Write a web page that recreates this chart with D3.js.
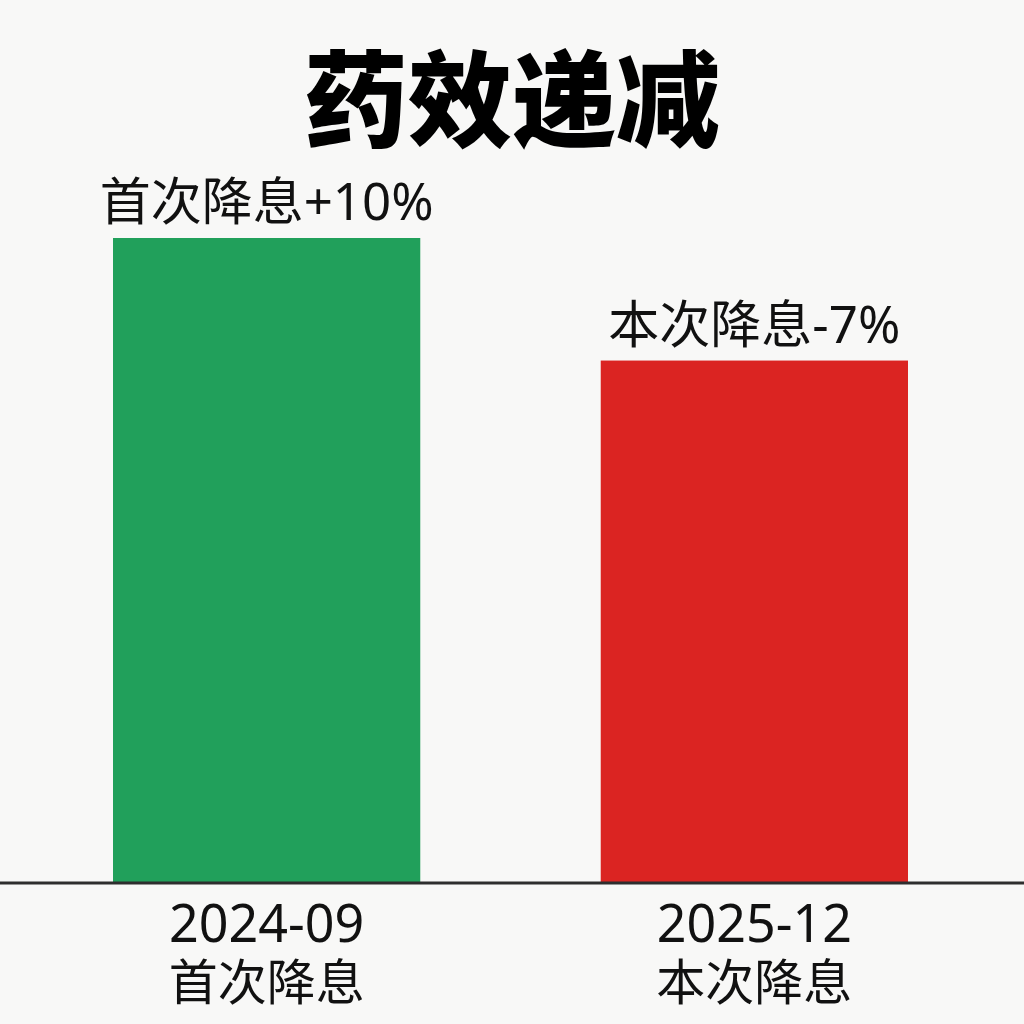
<!DOCTYPE html>
<html>
<head>
<meta charset="utf-8">
<script src="https://cdn.jsdelivr.net/npm/d3@7"></script>
<style>
  html, body { margin: 0; padding: 0; background: #f8f8f7; }
  svg { display: block; }
</style>
</head>
<body>
<div id="chart"></div>
<script>
// data
const categories = ["2024-09", "2025-12"];
const subLabels = ["首次降息", "本次降息"];
const changeLabels = ["首次降息+10%", "本次降息-7%"];
const barHeights = [100, 81]; // drawn bar height, relative
const barColors = ["#21a05b", "#db2422"];

const width = 1024;
const height = 1024;
const baseY = 883;
const cjkFont = "'Noto Sans CJK SC', sans-serif";
const font = "'Noto Sans', 'Noto Sans CJK SC', sans-serif";

const svg = d3.select("#chart")
    .append("svg")
    .attr("width", width)
    .attr("height", height);

svg.append("rect")
    .attr("width", width)
    .attr("height", height)
    .attr("fill", "#f8f8f7");

// scales
const x = d3.scaleBand()
    .domain(categories)
    .range([113, 908])
    .paddingInner(0.37)
    .paddingOuter(0);

const y = d3.scaleLinear()
    .domain([0, 100])
    .range([baseY, 238]);

// title
svg.append("text")
    .attr("x", 512)
    .attr("y", 139)
    .attr("text-anchor", "middle")
    .style("font-family", cjkFont)
    .style("font-weight", 900)
    .style("font-size", "104px")
    .style("fill", "#000")
    .text("药效递减");

// bars
svg.selectAll("rect.bar")
    .data(categories)
    .join("rect")
    .attr("class", "bar")
    .attr("x", d => x(d))
    .attr("y", (d, i) => y(barHeights[i]))
    .attr("width", x.bandwidth())
    .attr("height", (d, i) => baseY - y(barHeights[i]))
    .attr("fill", (d, i) => barColors[i]);

// value labels over bars
svg.selectAll("text.val")
    .data(categories)
    .join("text")
    .attr("class", "val")
    .attr("x", d => x(d) + x.bandwidth() / 2)
    .attr("y", (d, i) => y(barHeights[i]) - 18)
    .attr("text-anchor", "middle")
    .style("font-family", font)
    .style("font-size", "51px")
    .style("fill", "#111")
    .text((d, i) => changeLabels[i]);

// baseline
svg.append("line")
    .attr("x1", 0)
    .attr("x2", width)
    .attr("y1", baseY)
    .attr("y2", baseY)
    .attr("stroke", "#2e2e2e")
    .attr("stroke-width", 3);

// x labels, two lines
svg.selectAll("text.xlab")
    .data(categories)
    .join("text")
    .attr("class", "xlab")
    .attr("x", d => x(d) + x.bandwidth() / 2)
    .attr("y", 942)
    .attr("text-anchor", "middle")
    .style("font-family", font)
    .style("font-size", "52px")
    .style("fill", "#111")
    .text(d => d);

svg.selectAll("text.sub")
    .data(categories)
    .join("text")
    .attr("class", "sub")
    .attr("x", d => x(d) + x.bandwidth() / 2)
    .attr("y", 1000)
    .attr("text-anchor", "middle")
    .style("font-family", cjkFont)
    .style("font-size", "49px")
    .style("fill", "#111")
    .text((d, i) => subLabels[i]);
</script>
</body>
</html>
